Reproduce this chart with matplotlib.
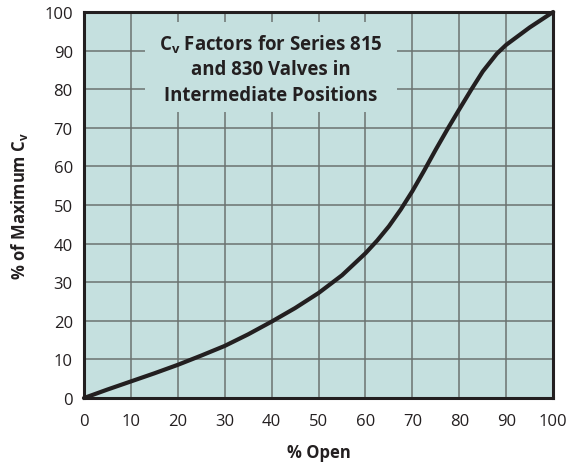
import matplotlib
matplotlib.use("Agg")
import matplotlib.pyplot as plt
from matplotlib.patches import Rectangle

pct_open = [0, 5, 10, 15, 20, 25, 30, 35, 40, 45, 50, 55, 60, 62.5, 65, 67.5, 70, 72.5, 75, 77.5, 80, 82.5, 85, 88, 90, 95, 100]
pct_cv =   [0, 2.2, 4.3, 6.4, 8.6, 11.0, 13.5, 16.5, 19.8, 23.3, 27.2, 31.8, 37.5, 40.8, 44.5, 48.8, 53.6, 58.9, 64.4, 69.7, 74.8, 79.8, 84.6, 89.2, 91.5, 96.0, 100]

xticks = list(range(0, 101, 10))
yticks = list(range(0, 101, 10))
title_lines = ["C$_\\mathbf{v}$ Factors for Series 815", "and 830 Valves in", "Intermediate Positions"]

plt.rcParams['font.family'] = ['Open Sans', 'DejaVu Sans']
plt.rcParams['mathtext.fontset'] = 'custom'
plt.rcParams['mathtext.bf'] = 'Open Sans:bold'
plt.rcParams['mathtext.rm'] = 'Open Sans'

fig = plt.figure(figsize=(5.75, 4.64), dpi=100)
ax = fig.add_axes([0.146, 0.140, 0.816, 0.832])
bg = '#c5e0df'
dark = '#231f20'
ax.set_facecolor(bg)
ax.set_xlim(0, 100)
ax.set_ylim(0, 100)
ax.set_xticks(xticks)
ax.set_yticks(yticks)
ax.grid(True, color='#6b7371', lw=1.1)
ax.set_axisbelow(True)
for s in ax.spines.values():
    s.set_color(dark)
    s.set_linewidth(2.2)
ax.tick_params(length=0, labelsize=12, colors=dark)
ax.tick_params(axis='x', pad=11)
ax.tick_params(axis='y', pad=8)

# title box hiding grid
ax.add_patch(Rectangle((0.130, 0.741), 0.537, 0.233, transform=ax.transAxes,
                       facecolor=bg, edgecolor='none', zorder=1.5))
ys = [0.918, 0.852, 0.785]
for t, y in zip(title_lines, ys):
    ax.text(0.399, y, t, transform=ax.transAxes, ha='center', va='center',
            fontsize=13.4, fontweight='bold', color=dark, zorder=3)

ax.plot(pct_open, pct_cv, color=dark, lw=3, solid_capstyle='round',
        solid_joinstyle='round', zorder=4, clip_on=False)

ax.set_xlabel('% Open', fontsize=12, fontweight='bold', color=dark, labelpad=10)
ax.set_ylabel('% of Maximum C$_\\mathbf{v}$', fontsize=12, fontweight='bold', color=dark, labelpad=10)

fig.savefig('out.png', dpi=100)
